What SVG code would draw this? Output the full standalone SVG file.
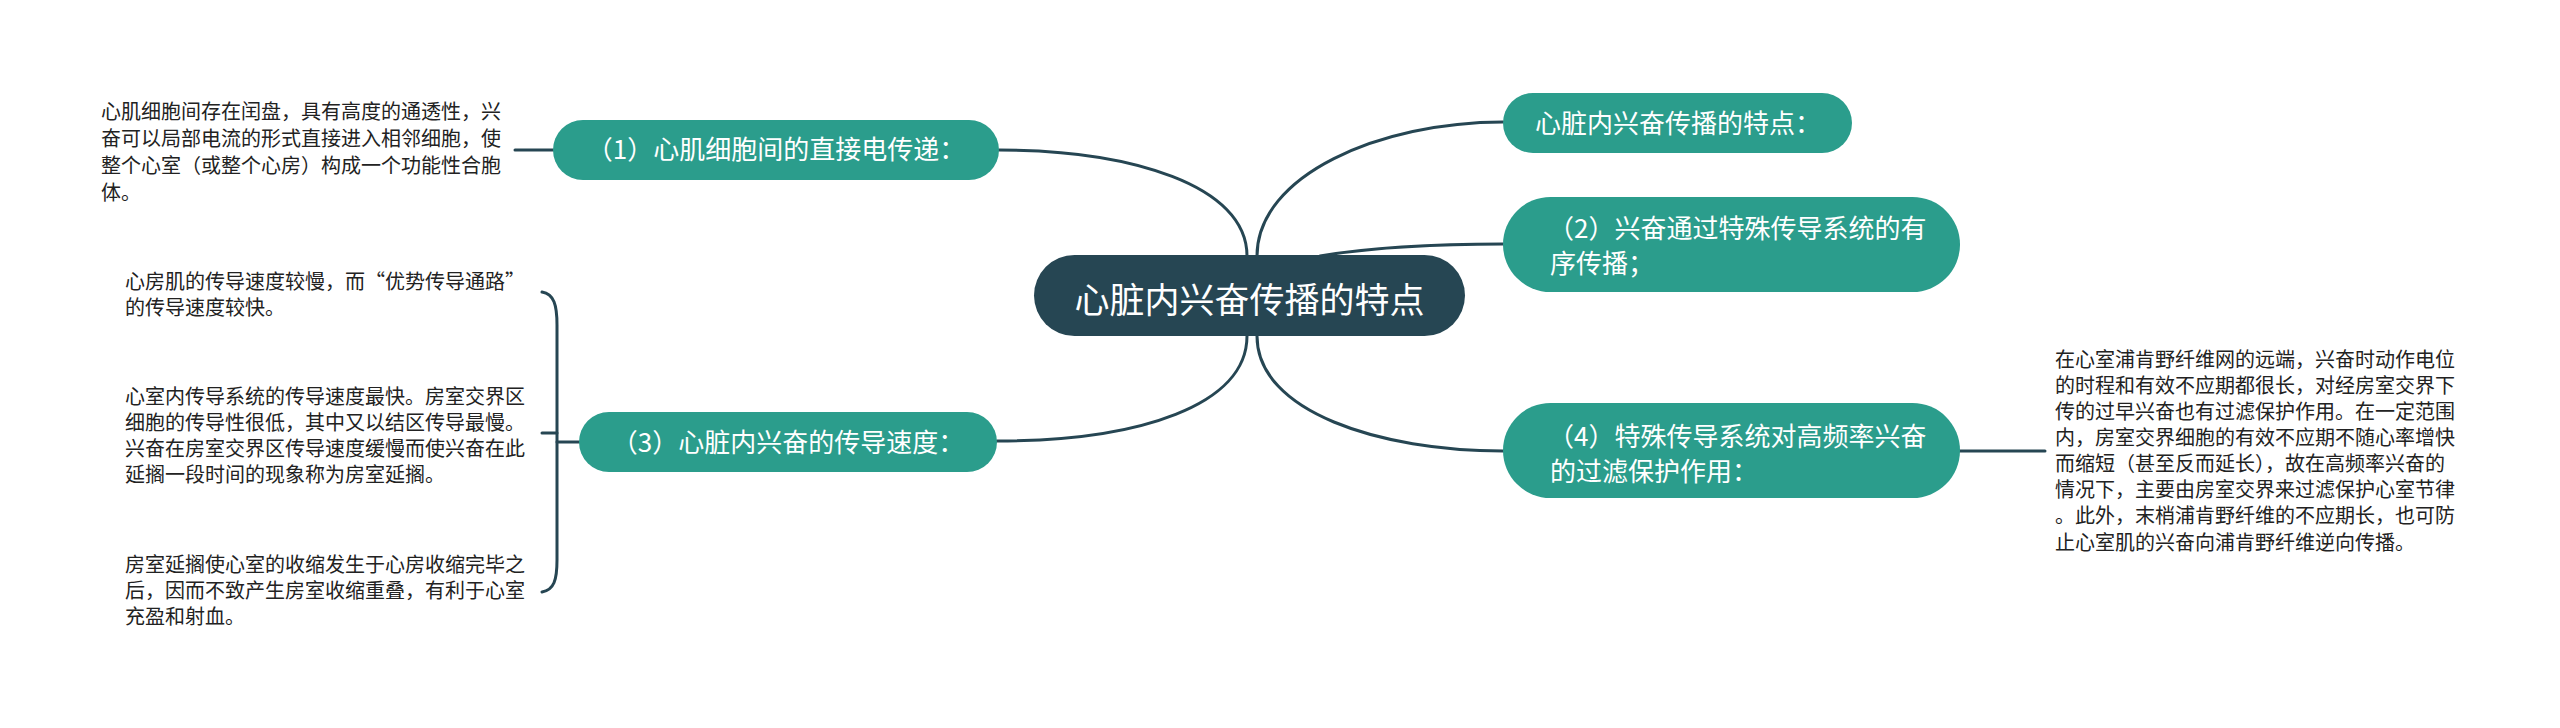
<svg xmlns="http://www.w3.org/2000/svg" width="2560" height="728" viewBox="0 0 2560 728">
<style>
.bg{fill:#ffffff}
.pill{fill:#2b9d8c}
.root{fill:#264653}
.lnk{fill:none;stroke:#264653;stroke-width:3;stroke-linecap:round}
.tw{font-family:"Noto Sans CJK SC","Noto Sans",sans-serif;fill:#ffffff;font-size:26px}
.tr{font-family:"Noto Sans CJK SC","Noto Sans",sans-serif;fill:#ffffff;font-size:35px}
.tl{font-family:"Noto Sans CJK SC","Noto Sans",sans-serif;fill:#222222;font-size:20px}
</style>
<rect class="bg" x="0" y="0" width="2560" height="728"/>
<g id="connectors">
<path class="lnk" d="M1247,256 C1247,185 1130,150 999,150"/>
<path class="lnk" d="M1257,256 C1257,175 1380,122 1503,122"/>
<path class="lnk" d="M1320,256 C1380,246 1440,244 1503,244"/>
<path class="lnk" d="M1247,336 C1247,405 1140,441 997,441"/>
<path class="lnk" d="M1257,336 C1257,412 1380,451 1503,451"/>
<path class="lnk" d="M553,150 L515,150"/>
<path class="lnk" d="M1960,451 L2045,451"/>
<path class="lnk" d="M579,442 L557,442"/>
<path class="lnk" d="M542,292 C554,294 557,305 557,325 L557,560 C557,580 554,590 542,592"/>
<path class="lnk" d="M542,433 L557,433"/>
</g>
<g id="root">
<rect class="root" x="1034" y="255" width="431" height="81" rx="40.5"/>
<text class="tr" x="1249.5" y="313" text-anchor="middle">心脏内兴奋传播的特点</text>
</g>
<g id="n1">
<rect class="pill" x="553" y="120" width="446" height="60" rx="30"/>
<text class="tw" x="776" y="159" text-anchor="middle">（1）心肌细胞间的直接电传递：</text>
</g>
<g id="n0">
<rect class="pill" x="1503" y="93" width="349" height="60" rx="30"/>
<text class="tw" x="1535" y="133">心脏内兴奋传播的特点：</text>
</g>
<g id="n2">
<rect class="pill" x="1503" y="197" width="457" height="95" rx="47.5"/>
<text class="tw" x="1548" y="238">（2）兴奋通过特殊传导系统的有</text>
<text class="tw" x="1550" y="273">序传播；</text>
</g>
<g id="n3">
<rect class="pill" x="579" y="412" width="418" height="60" rx="30"/>
<text class="tw" x="788" y="452" text-anchor="middle">（3）心脏内兴奋的传导速度：</text>
</g>
<g id="n4">
<rect class="pill" x="1503" y="403" width="457" height="95" rx="47.5"/>
<text class="tw" x="1548" y="446">（4）特殊传导系统对高频率兴奋</text>
<text class="tw" x="1550" y="481">的过滤保护作用：</text>
</g>
<g id="leaf1">
<text class="tl" x="101" y="119">心肌细胞间存在闰盘，具有高度的通透性，兴</text>
<text class="tl" x="101" y="146">奋可以局部电流的形式直接进入相邻细胞，使</text>
<text class="tl" x="101" y="173">整个心室（或整个心房）构成一个功能性合胞</text>
<text class="tl" x="101" y="200">体。</text>
</g>
<g id="leaf3a">
<text class="tl" x="125" y="289">心房肌的传导速度较慢，而“优势传导通路”</text>
<text class="tl" x="125" y="315">的传导速度较快。</text>
</g>
<g id="leaf3b">
<text class="tl" x="125" y="404">心室内传导系统的传导速度最快。房室交界区</text>
<text class="tl" x="125" y="430">细胞的传导性很低，其中又以结区传导最慢。</text>
<text class="tl" x="125" y="456">兴奋在房室交界区传导速度缓慢而使兴奋在此</text>
<text class="tl" x="125" y="482">延搁一段时间的现象称为房室延搁。</text>
</g>
<g id="leaf3c">
<text class="tl" x="125" y="572">房室延搁使心室的收缩发生于心房收缩完毕之</text>
<text class="tl" x="125" y="598">后，因而不致产生房室收缩重叠，有利于心室</text>
<text class="tl" x="125" y="624">充盈和射血。</text>
</g>
<g id="leaf4">
<text class="tl" x="2055" y="367">在心室浦肯野纤维网的远端，兴奋时动作电位</text>
<text class="tl" x="2055" y="393">的时程和有效不应期都很长，对经房室交界下</text>
<text class="tl" x="2055" y="419">传的过早兴奋也有过滤保护作用。在一定范围</text>
<text class="tl" x="2055" y="445">内，房室交界细胞的有效不应期不随心率增快</text>
<text class="tl" x="2055" y="471">而缩短（甚至反而延长），故在高频率兴奋的</text>
<text class="tl" x="2055" y="497">情况下，主要由房室交界来过滤保护心室节律</text>
<text class="tl" x="2055" y="523">。此外，末梢浦肯野纤维的不应期长，也可防</text>
<text class="tl" x="2055" y="550">止心室肌的兴奋向浦肯野纤维逆向传播。</text>
</g>
</svg>
